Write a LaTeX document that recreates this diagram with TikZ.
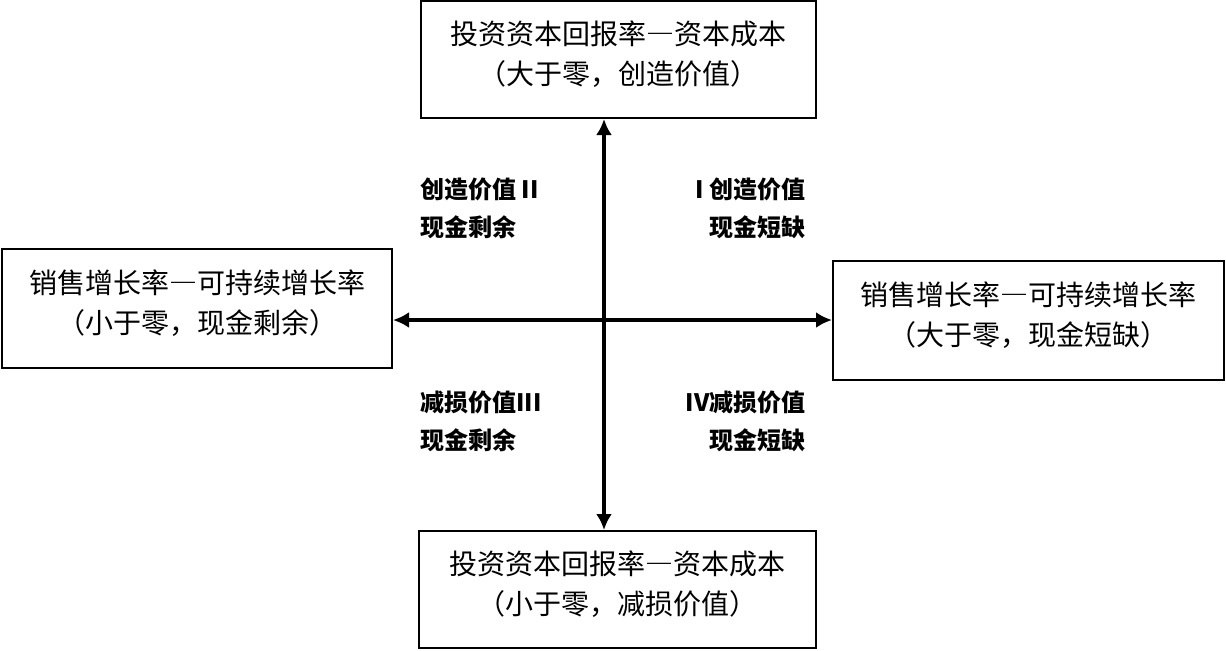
\documentclass[tikz,border=0pt]{standalone}
\usepackage{fontspec}
\newfontfamily\cjk{Noto Sans CJK SC}
\usetikzlibrary{arrows.meta}
\usetikzlibrary{positioning}

\begin{document}
\begin{tikzpicture}[x=0.5pt,y=-0.5pt,
	box/.style={draw,line width=1pt,inner sep=0pt},
	boxtext/.style={align=center,inner sep=0pt,yshift=2.5pt,
		font=\cjk\fontsize{14pt}{20pt}\selectfont},
	quad/.style={inner sep=0pt,font=\cjk\bfseries\fontsize{12pt}{19pt}\selectfont},
	axis/.style={line width=2pt,-{Latex[length=8pt,width=8pt]}}]
	\useasboundingbox (0,0) rectangle (1226,650);
	\node[box,minimum width=197.5pt,minimum height=58.5pt] (roiTop) at (618.5,59.5){};%top
	\node[box,minimum width=198.5pt,minimum height=58.5pt] (roiBot) at (617.5,589.5){};%bottom
	\node[box,minimum width=195pt,minimum height=59.5pt] (growLeft) at (197,308.5){};%left
	\node[box,minimum width=195.5pt,minimum height=59.5pt] (growRight) at (1028.5,320.5){};%right
	\node[boxtext] (roiTopText) at (roiTop){投资资本回报率―资本成本\\（大于零，创造价值）};
	\node[boxtext] (roiBotText) at (roiBot){投资资本回报率―资本成本\\（小于零，减损价值）};
	\node[boxtext] (growLeftText) at (growLeft){销售增长率―可持续增长率\\（小于零，现金剩余）};
	\node[boxtext] (growRightText) at (growRight){销售增长率―可持续增长率\\（大于零，现金短缺）};
	\coordinate (centre) at (604,320);
	\draw[axis] (centre) -- (centre |- roiTop.south);
	\draw[axis] (centre) -- (centre |- roiBot.north);
	\draw[axis] (centre) -- (centre -| growLeft.east);
	\draw[axis] (centre) -- (centre -| growRight.west);
	\node[quad,anchor=west,align=left] (quadII) at (420,208){创造价值 II\\现金剩余};
	\node[quad,anchor=east,align=right] (quadI) at (806,208){I 创造价值\\现金短缺};
	\node[quad,anchor=west,align=left] (quadIII) at (420,421){减损价值III\\现金剩余};
	\node[quad,anchor=east,align=right] (quadIV) at (806,421){IV减损价值\\现金短缺};
\end{tikzpicture}
\end{document}
